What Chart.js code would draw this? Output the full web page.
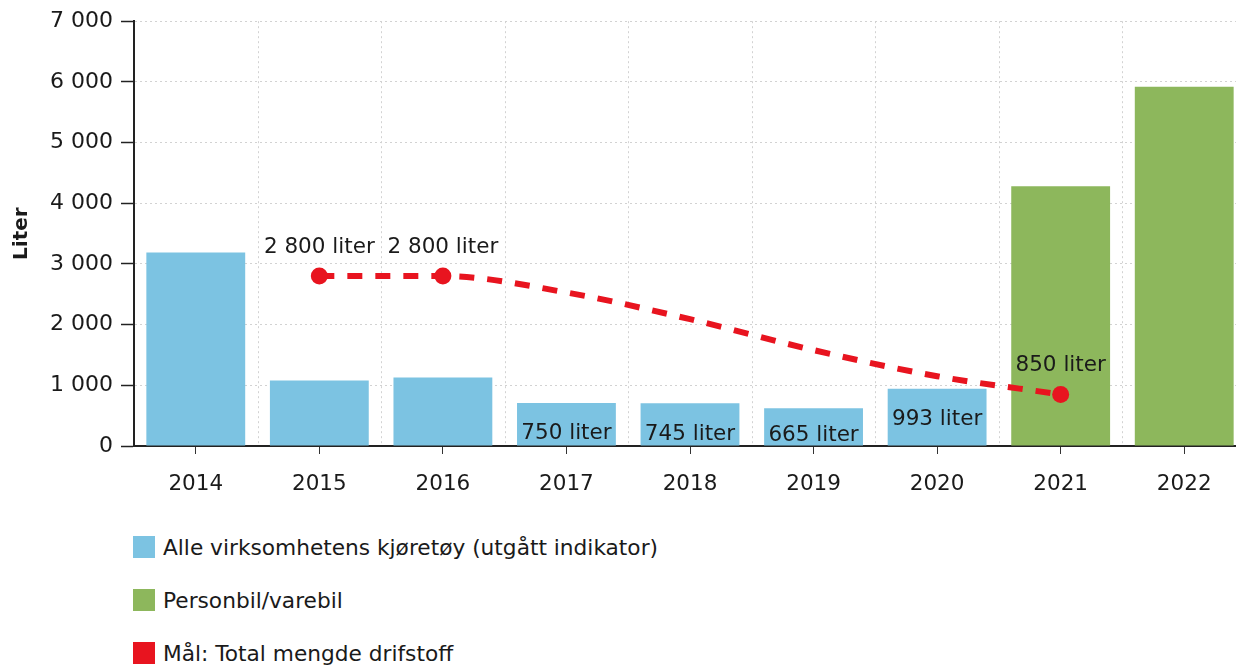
<!DOCTYPE html>
<html><head><meta charset="utf-8">
<script src="https://cdn.jsdelivr.net/npm/chart.js@4/dist/chart.umd.min.js"></script>
<style>
html,body{margin:0;padding:0;background:#fff;overflow:hidden;width:1236px;height:665px;}
#wrap{position:absolute;left:0;top:0;width:1246px;height:510px;}
#legend{position:absolute;left:0;top:0;font-family:"DejaVu Sans",Verdana,sans-serif;font-size:21.7px;color:#1a1a1a;}
.item{position:absolute;left:133px;display:flex;align-items:center;white-space:nowrap;height:22px;}
.box{width:22px;height:22px;margin-right:8px;flex:none;}
</style>
</head><body>
<div id="wrap"><canvas id="c"></canvas></div>
<div id="legend"></div>
<script>
const years = ['2014','2015','2016','2017','2018','2019','2020','2021','2022'];
const allVehicles = [3190, 1080, 1130, 710, 705, 620, 945, null, null];
const carVan = [null, null, null, null, null, null, null, 4280, 5920];
const target = [null, 2800, 2800, 2530, 2090, 1580, 1150, 850, null];
const targetLabels = ['', '2 800 liter', '2 800 liter', '', '', '', '', '850 liter', ''];
const barLabels = ['', '', '', '750 liter', '745 liter', '665 liter', '993 liter', '', ''];
const yTicks = [0, 1000, 2000, 3000, 4000, 5000, 6000, 7000];
const seriesNames = ['Alle virksomhetens kjøretøy (utgått indikator)', 'Personbil/varebil', 'Mål: Total mengde drifstoff'];

const BLUE = '#7cc3e2', GREEN = '#8db75c', RED = '#e8141f';
const FONT = '"DejaVu Sans", Verdana, sans-serif';

const vGrid = {
  id: 'vGrid',
  beforeDatasetsDraw(chart) {
    const x = chart.scales.x, a = chart.chartArea, ctx = chart.ctx;
    const step = x.getPixelForValue(1) - x.getPixelForValue(0);
    ctx.save();
    ctx.strokeStyle = '#d2d2d2'; ctx.lineWidth = 1; ctx.setLineDash([2, 3]);
    for (let i = 0; i < years.length - 1; i++) {
      const px = Math.round(x.getPixelForValue(i) + step / 2) + 0.5;
      ctx.beginPath(); ctx.moveTo(px, a.top); ctx.lineTo(px, a.bottom); ctx.stroke();
    }
    ctx.restore();
  }
};
const labelsPlugin = {
  id: 'valLabels',
  afterDatasetsDraw(chart) {
    const ctx = chart.ctx;
    ctx.save();
    ctx.font = '21.5px ' + FONT; ctx.fillStyle = '#1a1a1a';
    ctx.textAlign = 'center'; ctx.textBaseline = 'middle';
    chart.getDatasetMeta(0).data.forEach((bar, i) => {
      if (!barLabels[i]) return;
      ctx.fillText(barLabels[i], bar.x, Math.min(bar.y + 31, 435));
    });
    chart.getDatasetMeta(2).data.forEach((pt, i) => {
      if (!targetLabels[i]) return;
      ctx.fillText(targetLabels[i], pt.x, pt.y - 29);
    });
    ctx.restore();
  }
};

new Chart(document.getElementById('c'), {
  data: {
    labels: years,
    datasets: [
      { type: 'bar', label: seriesNames[0], data: allVehicles, backgroundColor: BLUE, grouped: false, barPercentage: 0.8, categoryPercentage: 1, order: 2 },
      { type: 'bar', label: seriesNames[1], data: carVan, backgroundColor: GREEN, grouped: false, barPercentage: 0.8, categoryPercentage: 1, order: 2 },
      { type: 'line', label: seriesNames[2], data: target, borderColor: RED, backgroundColor: RED,
        borderWidth: 6, borderDash: [15, 13], cubicInterpolationMode: 'monotone', spanGaps: true, fill: false,
        pointRadius: c => targetLabels[c.dataIndex] ? 8.5 : 0, pointHoverRadius: c => targetLabels[c.dataIndex] ? 8.5 : 0,
        pointBorderWidth: 0, order: 0 }
    ]
  },
  options: {
    responsive: true, maintainAspectRatio: false, animation: false,
    layout: { padding: { top: 10, left: 0, right: 0, bottom: 0 } },
    plugins: { legend: { display: false }, tooltip: { enabled: false } },
    scales: {
      x: {
        offset: true,
        grid: { offset: false, drawOnChartArea: false, drawTicks: true, tickLength: 8, tickColor: '#333', tickWidth: 1 },
        border: { display: true, color: '#222', width: 2 },
        ticks: { font: { family: FONT, size: 21.5 }, color: '#1a1a1a', padding: 18 },
        afterFit(s) { s.height = 64; }
      },
      y: {
        min: 0, max: 7000,
        afterBuildTicks(s) { s.ticks = yTicks.map(v => ({ value: v })); },
        grid: { color: '#d2d2d2', lineWidth: 1, tickColor: '#222', tickWidth: 1.5, tickLength: 13 },
        border: { display: true, color: '#222', width: 2, dash: [2, 3] },
        ticks: { font: { family: FONT, size: 22 }, color: '#1a1a1a', padding: 8,
          callback: v => String(v).replace(/\B(?=(\d{3})+(?!\d))/g, ' ') },
        title: { display: true, text: 'Liter', font: { family: FONT, size: 20, weight: 'bold' }, color: '#1a1a1a', padding: { top: 10, bottom: 0 } },
        afterFit(s) { s.width = 134; }
      }
    }
  },
  plugins: [vGrid, labelsPlugin]
});

const colors = [BLUE, GREEN, RED];
const leg = document.getElementById('legend');
seriesNames.forEach((n, i) => {
  const d = document.createElement('div');
  d.className = 'item';
  d.style.top = (536 + i * 53) + 'px';
  d.innerHTML = '<span class="box" style="background:' + colors[i] + '"></span><span></span>';
  d.lastChild.textContent = n;
  leg.appendChild(d);
});
</script>
</body></html>
